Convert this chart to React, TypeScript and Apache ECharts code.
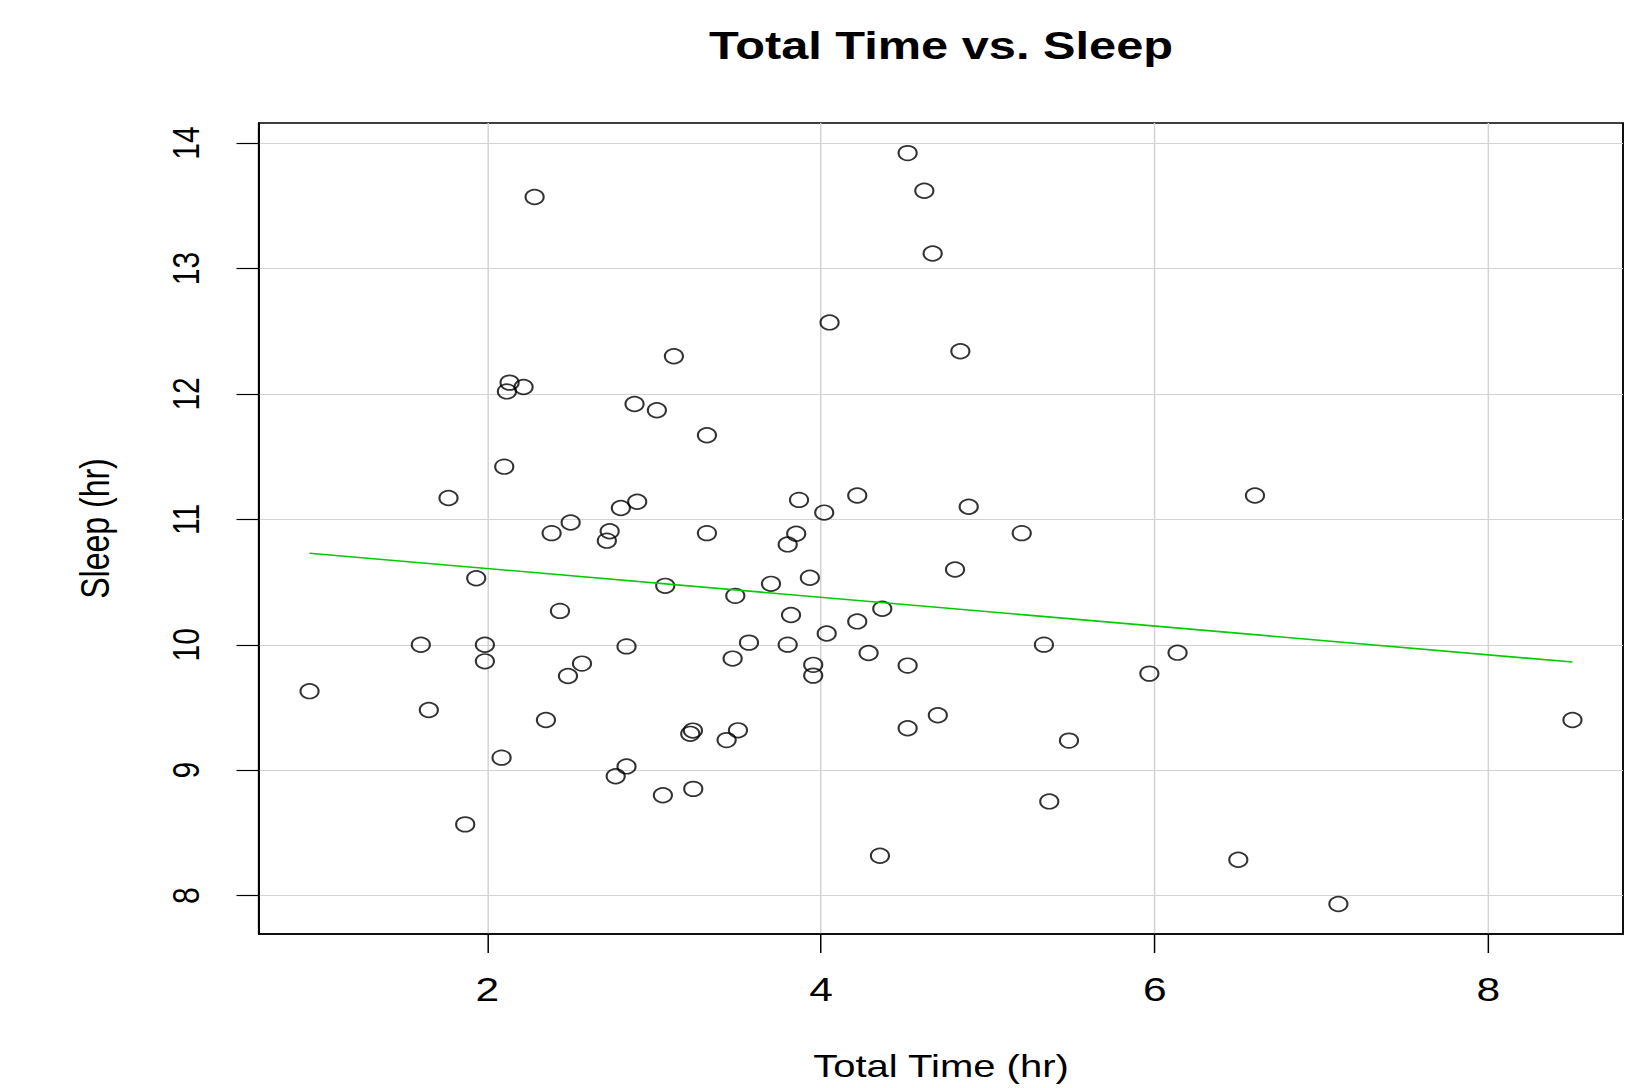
import React, { useEffect, useRef } from "react";
import * as echarts from "echarts";

// ---- data ----
const totalTime = [0.934, 1.601, 1.649, 1.767, 1.867, 1.933, 1.985, 1.985, 2.085, 2.101,
  2.117, 2.133, 2.217, 2.283, 2.351, 2.385, 2.435, 2.483, 2.499, 2.567,
  2.716, 2.733, 2.769, 2.80, 2.834, 2.834, 2.882, 2.898, 3.016, 3.052,
  3.066, 3.118, 3.216, 3.232, 3.234, 3.316, 3.316, 3.434, 3.47, 3.486,
  3.502, 3.568, 3.70, 3.80, 3.80, 3.82, 3.851, 3.868, 3.933, 3.953,
  3.953, 4.019, 4.034, 4.051, 4.217, 4.217, 4.285, 4.353, 4.367, 4.519,
  4.519, 4.519, 4.619, 4.669, 4.70, 4.803, 4.835, 4.885, 5.203, 5.336,
  5.368, 5.486, 5.968, 6.137, 6.501, 6.601, 7.101, 8.504];
const sleep = [9.63, 10.00, 9.48, 11.17, 8.568, 10.53, 10.00, 9.868, 9.10, 11.42,
  12.02, 12.09, 12.055, 13.57, 9.40, 10.89, 10.27, 9.751, 10.975, 9.85,
  10.83, 10.905, 8.952, 11.09, 9.987, 9.03, 11.92, 11.14, 11.87, 8.80,
  10.47, 12.30, 9.29, 9.316, 8.851, 11.67, 10.89, 9.24, 9.89, 10.39,
  9.318, 10.017, 10.486, 10.80, 10.001, 10.237, 10.885, 11.155, 10.534, 9.84,
  9.754, 11.054, 10.09, 12.57, 11.19, 10.186, 9.934, 8.318, 10.287, 13.92,
  9.834, 9.334, 13.62, 13.12, 9.438, 10.60, 12.34, 11.10, 10.89, 10.001,
  8.751, 9.236, 9.77, 9.937, 8.286, 11.19, 7.933, 9.40];
const fitX = [0.934, 8.504];
const fitY = [10.73, 9.862];
const xTicks = [2, 4, 6, 8];
const yTicks = [8, 9, 10, 11, 12, 13, 14];
const xRange = [0.631, 8.807];
const yRange = [7.694, 14.16];

const TITLE = "Total Time vs. Sleep";
const X_NAME = "Total Time (hr)";
const Y_NAME = "Sleep (hr)";

// the reference is horizontally stretched; draw narrower and stretch
const FULL_W = 1634;
const H = 1088;
const W = 1307;
const SX = FULL_W / W;

export default function App() {
  const ref = useRef<HTMLDivElement>(null);
  useEffect(() => {
    if (!ref.current) return;
    const chart = echarts.init(ref.current, null, { renderer: "svg", width: W, height: H });
    const font = "'Liberation Sans', Arial, sans-serif";
    const gridLeft = 259 / SX;
    const gridRight = W - 1623 / SX;
    const plotCenter = (259 + 1623) / 2 / SX;
    chart.setOption({
      animation: false,
      backgroundColor: "#ffffff",
      title: {
        text: TITLE,
        left: plotCenter - 5,
        top: 21,
        textAlign: "center",
        textStyle: { fontFamily: font, fontSize: 39, fontWeight: "bold", color: "#000" },
      },
      grid: {
        left: gridLeft,
        right: gridRight,
        top: 123,
        bottom: H - 934,
        show: true,
        borderColor: "#000",
        borderWidth: 1.5,
        backgroundColor: "transparent",
        containLabel: false,
        outerBoundsMode: "none",
      },
      xAxis: {
        type: "value",
        min: xRange[0],
        max: xRange[1],
        name: X_NAME,
        nameLocation: "middle",
        nameGap: 116,
        nameTextStyle: { fontFamily: font, fontSize: 32, color: "#000" },
        axisLine: { show: true, onZero: false, lineStyle: { color: "#000", width: 1.5 } },
        axisTick: { show: true, inside: false, length: 19, customValues: xTicks, lineStyle: { color: "#000", width: 1.2 } },
        axisLabel: {
          customValues: xTicks,
          margin: 38,
          fontFamily: font,
          fontSize: 34,
          color: "#000",
          showMinLabel: true,
          showMaxLabel: true,
        },
        splitLine: { show: true, lineStyle: { color: "#d3d3d3", width: 1.2 } },
      },
      yAxis: {
        type: "value",
        min: yRange[0],
        max: yRange[1],
        name: Y_NAME,
        nameLocation: "middle",
        nameGap: 115,
        nameTextStyle: { fontFamily: font, fontSize: 32, color: "#000" },
        axisLine: { show: true, onZero: false, lineStyle: { color: "#000", width: 1.5 } },
        axisTick: { show: true, inside: false, length: 18, customValues: yTicks, lineStyle: { color: "#000", width: 1.2 } },
        axisLabel: {
          customValues: yTicks,
          rotate: 90,
          margin: 44,
          fontFamily: font,
          fontSize: 30,
          color: "#000",
        },
        splitLine: { show: true, lineStyle: { color: "#d3d3d3", width: 1.2 } },
      },
      series: [
        {
          type: "scatter",
          data: totalTime.map((x, i) => [x, sleep[i]]),
          symbol: "circle",
          symbolSize: 14.5,
          itemStyle: { color: "rgba(0,0,0,0)", borderColor: "#000", borderWidth: 1.7 },
          z: 3,
        },
        {
          type: "line",
          data: fitX.map((x, i) => [x, fitY[i]]),
          symbol: "none",
          lineStyle: { color: "#00cc00", width: 1.6 },
          z: 4,
        },
      ],
    });
    return () => chart.dispose();
  }, []);
  return (
    <div
      style={{
        position: "fixed",
        left: 0,
        top: 0,
        width: W,
        height: H,
        transform: `scaleX(${SX})`,
        transformOrigin: "0 0",
        background: "#fff",
      }}
    >
      <div ref={ref} style={{ width: W, height: H }} />
    </div>
  );
}
